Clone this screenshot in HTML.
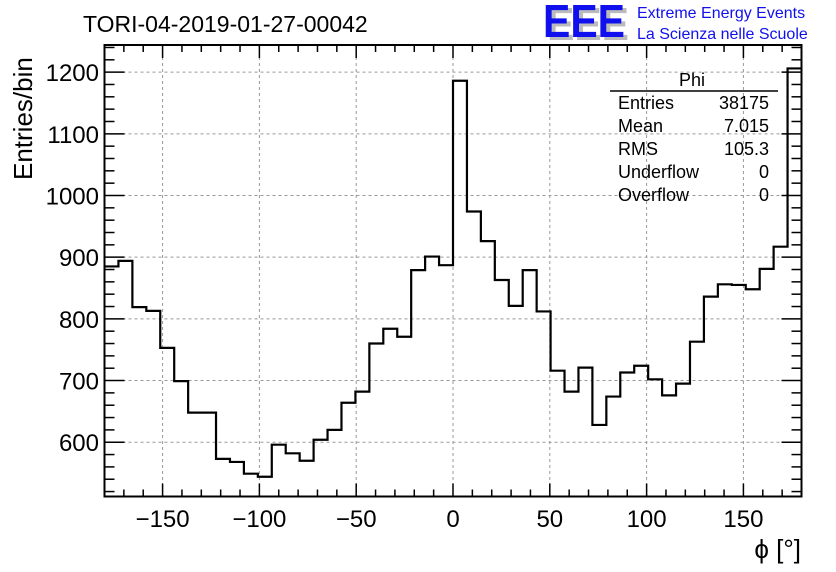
<!DOCTYPE html>
<html><head><meta charset="utf-8"><style>
body{margin:0;background:#fff;}
svg{display:block;font-family:"Liberation Sans",sans-serif;}
</style></head><body>
<svg id="c" width="836" height="572" viewBox="0 0 836 572">
<rect width="836" height="572" fill="#fff"/>
<text x="83" y="32" font-size="23">TORI-04-2019-01-27-00042</text>
<g>
<text x="547" y="40" font-size="46" font-weight="bold" fill="#bbb" textLength="82" lengthAdjust="spacingAndGlyphs">EEE</text>
<text x="543" y="37" font-size="46" font-weight="bold" fill="#1010ee" textLength="82" lengthAdjust="spacingAndGlyphs">EEE</text>
<text x="637" y="18" font-size="16" fill="#1010ee">Extreme Energy Events</text>
<text x="637" y="39" font-size="16" fill="#1010ee">La Scienza nelle Scuole</text>
</g>
<g id="grid"></g>
<g id="hist"></g>
<g id="axes"></g>
<g font-size="18">
<text x="692" y="86" text-anchor="middle">Phi</text>
<line x1="610" y1="91" x2="778" y2="91" stroke="#000" stroke-width="1.5"/>
<text x="618" y="109">Entries</text><text x="769" y="109" text-anchor="end">38175</text>
<text x="618" y="132">Mean</text><text x="769" y="132" text-anchor="end">7.015</text>
<text x="618" y="155">RMS</text><text x="769" y="155" text-anchor="end">105.3</text>
<text x="618" y="178">Underflow</text><text x="769" y="178" text-anchor="end">0</text>
<text x="618" y="201">Overflow</text><text x="769" y="201" text-anchor="end">0</text>
</g>
<text transform="translate(32,180) rotate(-90)" font-size="26">Entries/bin</text>
<text x="801" y="558" font-size="26" text-anchor="end">ϕ [°]</text>
</svg>
<script>
const binEdgesMin = -180;
const binEdgesMax = 180;
const counts = [885,894,819,813,753,699,648,648,573,568,549,544,596,582,570,604,620,664,682,760,784,771,879,901,887,1186,974,926,863,821,879,812,716,682,721,628,674,713,724,702,676,695,763,836,856,855,848,881,917,1206];
const xTicks = [-150,-100,-50,0,50,100,150];
const yTicks = [600,700,800,900,1000,1100,1200];
const L=104.5,R=801.5,T=45,B=496.5,yMin=512,yMax=1244;
const sx=v=>L+(v-binEdgesMin)/(binEdgesMax-binEdgesMin)*(R-L);
const sy=v=>B-(v-yMin)/(yMax-yMin)*(B-T);
const NS='http://www.w3.org/2000/svg';
function mk(tag,attrs,parent){const e=document.createElementNS(NS,tag);for(const k in attrs)e.setAttribute(k,attrs[k]);document.getElementById(parent).appendChild(e);return e;}
xTicks.forEach(v=>{const g=mk('line',{x1:sx(v),x2:sx(v),y1:T,y2:B,stroke:'#999','stroke-dasharray':'3,3','stroke-width':1},'grid');

});
yTicks.forEach(v=>{const g=mk('line',{x1:L,x2:R,y1:sy(v),y2:sy(v),stroke:'#999','stroke-dasharray':'3,3','stroke-width':1},'grid');

});
const w=(binEdgesMax-binEdgesMin)/counts.length;
let d='M'+sx(binEdgesMin)+','+sy(counts[0]);
counts.forEach((c,i)=>{d+=' L'+sx(binEdgesMin+i*w)+','+sy(c)+' L'+sx(binEdgesMin+(i+1)*w)+','+sy(c);});
const p=mk('path',{d:d,fill:'none',stroke:'#000','stroke-width':2.2},'hist');


const f=mk('rect',{x:L,y:T,width:R-L,height:B-T,fill:'none',stroke:'#000','stroke-width':2},'axes');


for(let v=-180;v<=180;v+=10){const maj=v%50===0;const len=maj?13:7;
mk('line',{x1:sx(v),x2:sx(v),y1:B,y2:B-len,stroke:'#000','stroke-width':1.5},'axes');
mk('line',{x1:sx(v),x2:sx(v),y1:T,y2:T+len,stroke:'#000','stroke-width':1.5},'axes');}
xTicks.forEach(v=>{const t=mk('text',{x:sx(v),y:527,'font-size':24,'text-anchor':'middle'},'axes');t.textContent=v<0?'\u2212'+(-v):v;

});
for(let v=520;v<=1240;v+=20){const maj=v%100===0;const len=maj?20:10;
mk('line',{x1:L,x2:L+len,y1:sy(v),y2:sy(v),stroke:'#000','stroke-width':1.5},'axes');
mk('line',{x1:R,x2:R-len,y1:sy(v),y2:sy(v),stroke:'#000','stroke-width':1.5},'axes');}
yTicks.forEach(v=>{const t=mk('text',{x:99,y:sy(v)+9,'font-size':24,'text-anchor':'end'},'axes');t.textContent=v;

});
</script>
</body></html>
